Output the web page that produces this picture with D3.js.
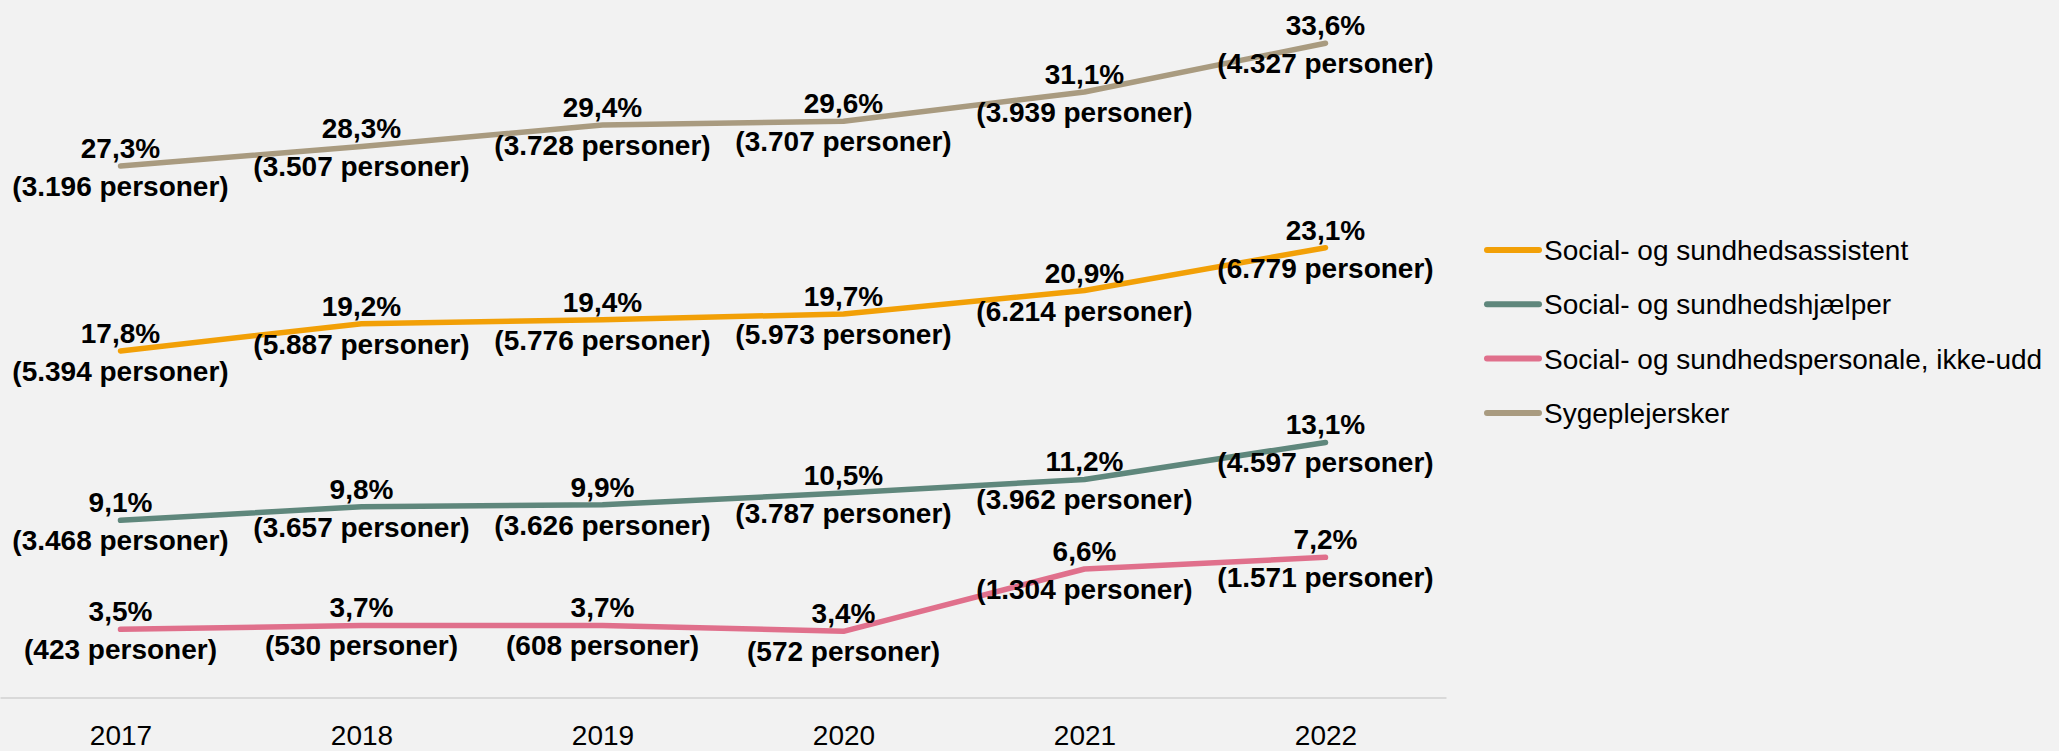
<!DOCTYPE html>
<html>
<head>
<meta charset="utf-8">
<script src="https://cdn.jsdelivr.net/npm/d3@7"></script>
<style>
  body { margin: 0; background: #F2F2F2; }
  svg { display: block; }
  .dlabel { font-family: "Liberation Sans", Arial, sans-serif; font-weight: bold; font-size: 28px; fill: #000; }
  .legend, .tick text { font-family: "Liberation Sans", Arial, sans-serif; font-size: 28px; fill: #000; }
</style>
</head>
<body>
<div id="chart"></div>
<script>
// Data
var years = ['2017', '2018', '2019', '2020', '2021', '2022'];
var seriesNames = ['Social- og sundhedsassistent', 'Social- og sundhedshjælper', 'Social- og sundhedspersonale, ikke-udd', 'Sygeplejersker'];
var seriesColors = ['#F2A007', '#5F877C', '#E0708C', '#A99B80'];
var assistentPct = [17.8, 19.2, 19.4, 19.7, 20.9, 23.1];
var assistentN = ['5.394', '5.887', '5.776', '5.973', '6.214', '6.779'];
var hjaelperPct = [9.1, 9.8, 9.9, 10.5, 11.2, 13.1];
var hjaelperN = ['3.468', '3.657', '3.626', '3.787', '3.962', '4.597'];
var ikkeUddPct = [3.5, 3.7, 3.7, 3.4, 6.6, 7.2];
var ikkeUddN = ['423', '530', '608', '572', '1.304', '1.571'];
var sygeplejPct = [27.3, 28.3, 29.4, 29.6, 31.1, 33.6];
var sygeplejN = ['3.196', '3.507', '3.728', '3.707', '3.939', '4.327'];

var series = [
  { name: seriesNames[0], color: seriesColors[0], pct: assistentPct, n: assistentN },
  { name: seriesNames[1], color: seriesColors[1], pct: hjaelperPct, n: hjaelperN },
  { name: seriesNames[2], color: seriesColors[2], pct: ikkeUddPct, n: ikkeUddN },
  { name: seriesNames[3], color: seriesColors[3], pct: sygeplejPct, n: sygeplejN }
];

// Dimensions
var svgWidth = 2059;
var svgHeight = 751;
var plot = { l: 0, r: 1446, t: 16, b: 697.5 };

var svg = d3.select('#chart')
    .append('svg')
    .attr('width', svgWidth)
    .attr('height', svgHeight);

svg.append('rect')
    .attr('width', svgWidth)
    .attr('height', svgHeight)
    .attr('fill', '#F2F2F2');

// Scales
var xScale = d3.scalePoint()
    .domain(years)
    .range([plot.l, plot.r])
    .padding(0.5);

var yScale = d3.scaleLinear()
    .domain([0, 35])
    .range([plot.b, plot.t]);

// X axis: baseline + year labels
var xAxis = d3.axisBottom(xScale).tickSize(0);
var xg = svg.append('g')
    .attr('transform', `translate(0, ${plot.b})`)
    .call(xAxis);
xg.select('.domain')
    .attr('stroke', '#D9D9D9')
    .attr('stroke-width', 2);
xg.selectAll('.tick text')
    .attr('dy', null)
    .attr('y', 47);

// Lines
var line = d3.line()
    .x((d, i) => xScale(years[i]))
    .y(d => yScale(d));

series.forEach(function (s) {
    svg.append('path')
        .datum(s.pct)
        .attr('d', line)
        .attr('fill', 'none')
        .attr('stroke', s.color)
        .attr('stroke-width', 5.5)
        .attr('stroke-linejoin', 'round')
        .attr('stroke-linecap', 'round');
});

// Data labels (centered on point, two lines)
series.forEach(function (s) {
    var lab = svg.append('g').selectAll('text')
        .data(s.pct)
        .enter()
        .append('text')
        .attr('class', 'dlabel')
        .attr('text-anchor', 'middle')
        .attr('x', (d, i) => xScale(years[i]))
        .attr('y', d => yScale(d) - 8);
    lab.append('tspan')
        .text(d => d.toFixed(1).replace('.', ',') + '%');
    lab.append('tspan')
        .attr('x', (d, i) => xScale(years[i]))
        .attr('dy', 38)
        .text((d, i) => '(' + s.n[i] + ' personer)');
});

// Legend
var legend = svg.append('g')
    .attr('transform', 'translate(1485, 250)');
var items = legend.selectAll('g')
    .data(series)
    .enter()
    .append('g')
    .attr('transform', (d, i) => `translate(0, ${i * 54.3})`);
items.append('line')
    .attr('x1', 2).attr('x2', 54)
    .attr('y1', 0).attr('y2', 0)
    .attr('stroke', d => d.color)
    .attr('stroke-width', 6)
    .attr('stroke-linecap', 'round');
items.append('text')
    .attr('class', 'legend')
    .attr('x', 59)
    .attr('y', 10)
    .text(d => d.name);
</script>
</body>
</html>
